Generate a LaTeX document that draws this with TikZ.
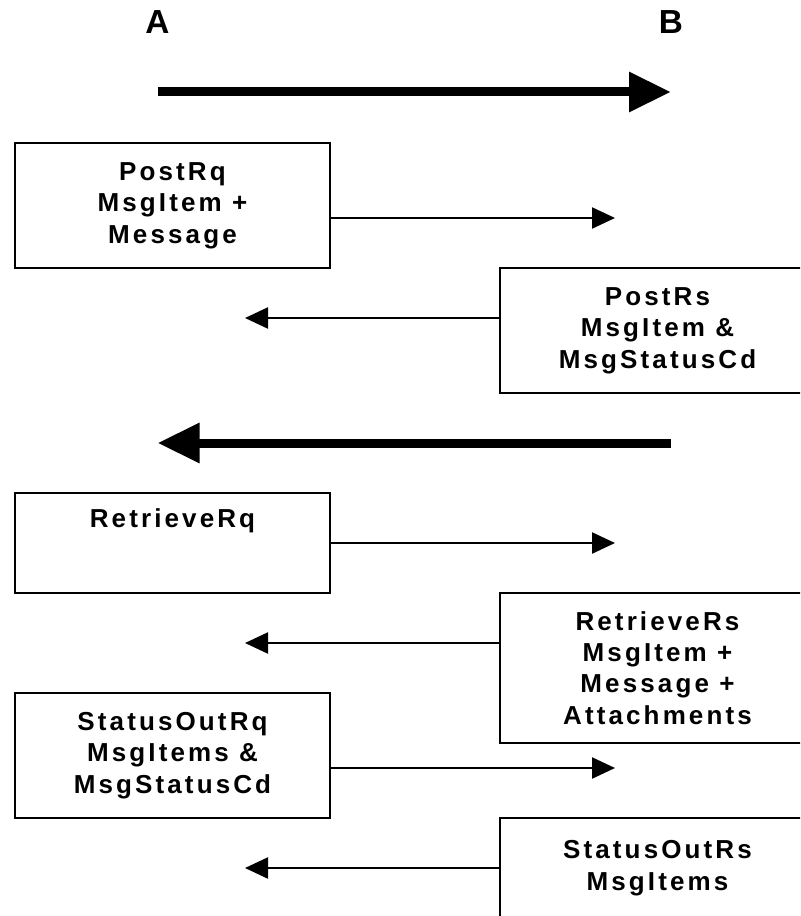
\documentclass[tikz,border=0pt]{standalone}
\usepackage{fontspec}
\setmainfont{Liberation Sans}
\newfontfamily\spacedfont{Liberation Sans}[LetterSpace=12]
\usetikzlibrary{arrows.meta, positioning}

\begin{document}
\begin{tikzpicture}[
  x=0.75pt, y=-0.75pt,
  every node/.style={font=\spacedfont\bfseries\fontsize{19.5}{23.5}\selectfont},
  msgbox/.style={rectangle, draw=black, line width=1.5pt, outer sep=0pt, align=center, minimum width=236.25pt, minimum height=93.75pt},
  side/.style={font=\bfseries\fontsize{25}{28}\selectfont},
  msg/.style={-{Triangle[length=17.25pt, width=15.75pt]}, line width=1.7pt},
  bigarrow/.style={-{Triangle[length=31.5pt, width=28.5pt]}, line width=6.75pt}
]
\useasboundingbox (0,0) rectangle (800,916);
\clip (0,0) rectangle (800,916);

\node[side] (a) at (157.5,22) {A};
\node[side] (b) at (671,22) {B};
\node[msgbox] (postrq) at (172.5,205.5) {PostRq\\MsgItem +\\Message};
\node[msgbox, below right=0pt and 127.5pt of postrq.south east] (postrs) {PostRs\\MsgItem \&\\MsgStatusCd};
\node[msgbox, minimum height=75pt, text depth=36.75pt, below left=75pt and 127.5pt of postrs.south west] (retrq) {RetrieveRq};
\node[msgbox, minimum height=112.5pt, below right=0pt and 127.5pt of retrq.south east] (retrs) {RetrieveRs\\MsgItem +\\Message +\\Attachments};
\node[msgbox, below=75pt of retrq] (statq) {StatusOutRq\\MsgItems \&\\MsgStatusCd};
\node[msgbox, minimum height=75pt, below right=0pt and 127.5pt of statq.south east] (stats) {StatusOutRs\\MsgItems};

\coordinate (bar1) at (0,92);
\coordinate (bar2) at (0,443);
\coordinate (t1) at (615,218);
\coordinate (t2) at (245,318);
\coordinate (t3) at (615,543);
\coordinate (t4) at (245,643);
\coordinate (t5) at (615,768);
\coordinate (t6) at (245,868);

\draw[bigarrow] (a |- bar1) -- (b |- bar1);
\draw[bigarrow] (b |- bar2) -- (a |- bar2);
\draw[msg] (postrq.east |- t1) -- (t1);
\draw[msg] (postrs.west |- t2) -- (t2);
\draw[msg] (retrq.east |- t3) -- (t3);
\draw[msg] (retrs.west |- t4) -- (t4);
\draw[msg] (statq.east |- t5) -- (t5);
\draw[msg] (stats.west |- t6) -- (t6);
\end{tikzpicture}
\end{document}
